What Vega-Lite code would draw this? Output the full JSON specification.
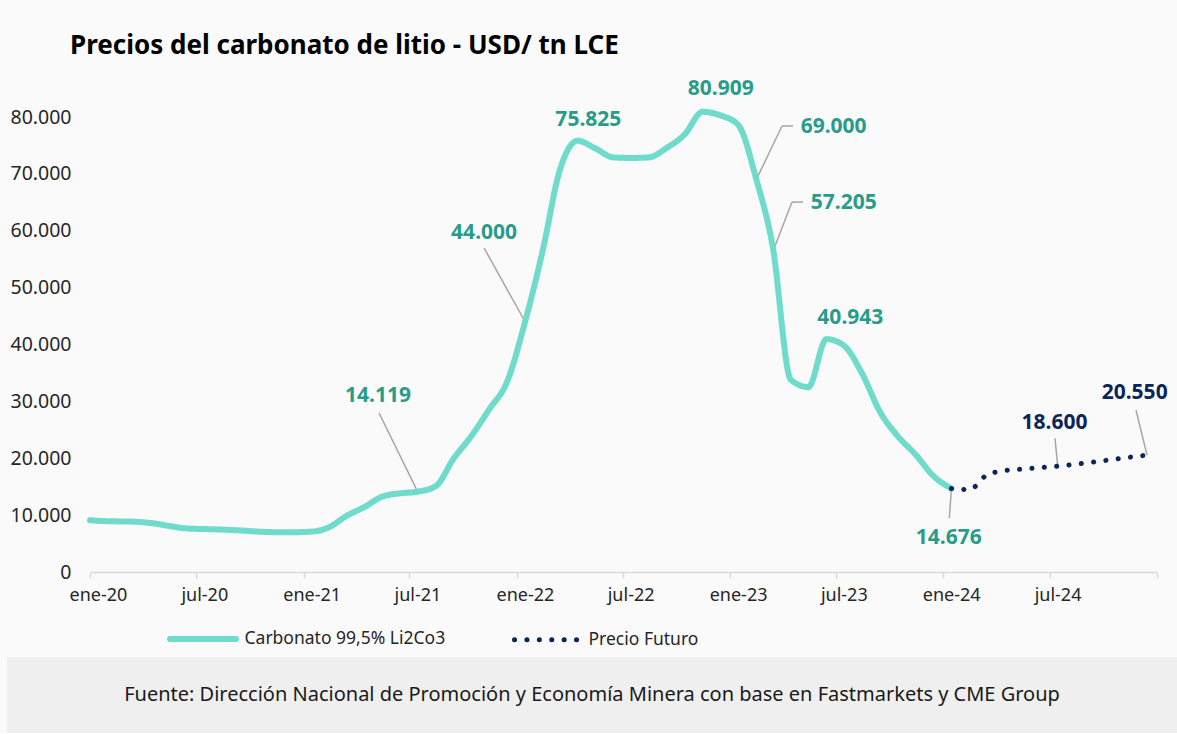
{
  "$schema": "https://vega.github.io/schema/vega-lite/v6.json",
  "background": "#fafafa",
  "padding": {"left": 7, "top": 32, "right": 0, "bottom": 0},
  "spacing": 53,
  "columns": 1,
  "align": "none",
  "config": {
    "view": {"stroke": null},
    "font": "Noto Sans",
    "locale": {
      "number": {"decimal": ",", "thousands": ".", "grouping": [3], "currency": ["$", ""]},
      "time": {
        "dateTime": "%A, %e de %B de %Y, %X", "date": "%d/%m/%Y", "time": "%H:%M:%S", "periods": ["AM", "PM"],
        "days": ["domingo", "lunes", "martes", "miércoles", "jueves", "viernes", "sábado"],
        "shortDays": ["dom", "lun", "mar", "mié", "jue", "vie", "sáb"],
        "months": ["enero", "febrero", "marzo", "abril", "mayo", "junio", "julio", "agosto", "septiembre", "octubre", "noviembre", "diciembre"],
        "shortMonths": ["ene", "feb", "mar", "abr", "may", "jun", "jul", "ago", "sep", "oct", "nov", "dic"]
      }
    }
  },
  "concat": [
    {
      "width": 1150,
      "height": 455,
      "title": {"text": "Precios del carbonato de litio - USD/ tn LCE", "anchor": "start", "frame": "group", "dx": 63, "offset": 19, "fontSize": 26, "fontWeight": "bold", "color": "#000000", "font": "Noto Sans"},
      "data": {"values": [
        {"fecha": "2020-01-01", "valor": 9100, "serie": "Carbonato 99,5% Li2Co3"},
        {"fecha": "2020-01-15", "valor": 9000, "serie": "Carbonato 99,5% Li2Co3"},
        {"fecha": "2020-02-15", "valor": 8900, "serie": "Carbonato 99,5% Li2Co3"},
        {"fecha": "2020-03-15", "valor": 8850, "serie": "Carbonato 99,5% Li2Co3"},
        {"fecha": "2020-04-15", "valor": 8600, "serie": "Carbonato 99,5% Li2Co3"},
        {"fecha": "2020-05-15", "valor": 8100, "serie": "Carbonato 99,5% Li2Co3"},
        {"fecha": "2020-06-15", "valor": 7650, "serie": "Carbonato 99,5% Li2Co3"},
        {"fecha": "2020-07-15", "valor": 7550, "serie": "Carbonato 99,5% Li2Co3"},
        {"fecha": "2020-08-15", "valor": 7450, "serie": "Carbonato 99,5% Li2Co3"},
        {"fecha": "2020-09-15", "valor": 7300, "serie": "Carbonato 99,5% Li2Co3"},
        {"fecha": "2020-10-15", "valor": 7100, "serie": "Carbonato 99,5% Li2Co3"},
        {"fecha": "2020-11-15", "valor": 7000, "serie": "Carbonato 99,5% Li2Co3"},
        {"fecha": "2020-12-15", "valor": 7000, "serie": "Carbonato 99,5% Li2Co3"},
        {"fecha": "2021-01-15", "valor": 7100, "serie": "Carbonato 99,5% Li2Co3"},
        {"fecha": "2021-02-15", "valor": 7960, "serie": "Carbonato 99,5% Li2Co3"},
        {"fecha": "2021-03-15", "valor": 9850, "serie": "Carbonato 99,5% Li2Co3"},
        {"fecha": "2021-04-15", "valor": 11430, "serie": "Carbonato 99,5% Li2Co3"},
        {"fecha": "2021-05-15", "valor": 13240, "serie": "Carbonato 99,5% Li2Co3"},
        {"fecha": "2021-06-15", "valor": 13830, "serie": "Carbonato 99,5% Li2Co3"},
        {"fecha": "2021-07-15", "valor": 14119, "serie": "Carbonato 99,5% Li2Co3"},
        {"fecha": "2021-08-15", "valor": 15100, "serie": "Carbonato 99,5% Li2Co3"},
        {"fecha": "2021-09-15", "valor": 20000, "serie": "Carbonato 99,5% Li2Co3"},
        {"fecha": "2021-10-15", "valor": 23900, "serie": "Carbonato 99,5% Li2Co3"},
        {"fecha": "2021-11-15", "valor": 28650, "serie": "Carbonato 99,5% Li2Co3"},
        {"fecha": "2021-12-15", "valor": 33400, "serie": "Carbonato 99,5% Li2Co3"},
        {"fecha": "2022-01-15", "valor": 44000, "serie": "Carbonato 99,5% Li2Co3"},
        {"fecha": "2022-02-15", "valor": 56900, "serie": "Carbonato 99,5% Li2Co3"},
        {"fecha": "2022-03-15", "valor": 70500, "serie": "Carbonato 99,5% Li2Co3"},
        {"fecha": "2022-04-15", "valor": 75825, "serie": "Carbonato 99,5% Li2Co3"},
        {"fecha": "2022-05-15", "valor": 74500, "serie": "Carbonato 99,5% Li2Co3"},
        {"fecha": "2022-06-15", "valor": 72900, "serie": "Carbonato 99,5% Li2Co3"},
        {"fecha": "2022-07-15", "valor": 72800, "serie": "Carbonato 99,5% Li2Co3"},
        {"fecha": "2022-08-15", "valor": 72900, "serie": "Carbonato 99,5% Li2Co3"},
        {"fecha": "2022-09-15", "valor": 74600, "serie": "Carbonato 99,5% Li2Co3"},
        {"fecha": "2022-10-15", "valor": 76900, "serie": "Carbonato 99,5% Li2Co3"},
        {"fecha": "2022-11-15", "valor": 80909, "serie": "Carbonato 99,5% Li2Co3"},
        {"fecha": "2022-12-15", "valor": 80300, "serie": "Carbonato 99,5% Li2Co3"},
        {"fecha": "2023-01-15", "valor": 78600, "serie": "Carbonato 99,5% Li2Co3"},
        {"fecha": "2023-02-15", "valor": 69000, "serie": "Carbonato 99,5% Li2Co3"},
        {"fecha": "2023-03-15", "valor": 57205, "serie": "Carbonato 99,5% Li2Co3"},
        {"fecha": "2023-04-15", "valor": 33800, "serie": "Carbonato 99,5% Li2Co3"},
        {"fecha": "2023-05-15", "valor": 32500, "serie": "Carbonato 99,5% Li2Co3"},
        {"fecha": "2023-06-15", "valor": 40943, "serie": "Carbonato 99,5% Li2Co3"},
        {"fecha": "2023-07-15", "valor": 39800, "serie": "Carbonato 99,5% Li2Co3"},
        {"fecha": "2023-08-15", "valor": 34900, "serie": "Carbonato 99,5% Li2Co3"},
        {"fecha": "2023-09-15", "valor": 28100, "serie": "Carbonato 99,5% Li2Co3"},
        {"fecha": "2023-10-15", "valor": 23900, "serie": "Carbonato 99,5% Li2Co3"},
        {"fecha": "2023-11-15", "valor": 20600, "serie": "Carbonato 99,5% Li2Co3"},
        {"fecha": "2023-12-15", "valor": 16900, "serie": "Carbonato 99,5% Li2Co3"},
        {"fecha": "2024-01-15", "valor": 14676, "serie": "Carbonato 99,5% Li2Co3"},
        {"fecha": "2024-01-15", "valor": 14676, "serie": "Precio Futuro"},
        {"fecha": "2024-02-15", "valor": 14500, "serie": "Precio Futuro"},
        {"fecha": "2024-03-15", "valor": 17000, "serie": "Precio Futuro"},
        {"fecha": "2024-04-15", "valor": 17830, "serie": "Precio Futuro"},
        {"fecha": "2024-05-15", "valor": 18090, "serie": "Precio Futuro"},
        {"fecha": "2024-06-15", "valor": 18340, "serie": "Precio Futuro"},
        {"fecha": "2024-07-15", "valor": 18600, "serie": "Precio Futuro"},
        {"fecha": "2024-08-15", "valor": 18950, "serie": "Precio Futuro"},
        {"fecha": "2024-09-15", "valor": 19340, "serie": "Precio Futuro"},
        {"fecha": "2024-10-15", "valor": 19760, "serie": "Precio Futuro"},
        {"fecha": "2024-11-15", "valor": 20180, "serie": "Precio Futuro"},
        {"fecha": "2024-12-15", "valor": 20550, "serie": "Precio Futuro"}
      ]},
      "encoding": {
        "x": {"field": "fecha", "type": "temporal",
          "scale": {"domain": [{"year": 2020, "month": 1, "date": 1}, {"year": 2025, "month": 1, "date": 1}], "range": [83, 1150], "nice": false},
          "axis": {
            "values": [{"year": 2020, "month": 1, "date": 1}, {"year": 2020, "month": 7, "date": 1}, {"year": 2021, "month": 1, "date": 1}, {"year": 2021, "month": 7, "date": 1}, {"year": 2022, "month": 1, "date": 1}, {"year": 2022, "month": 7, "date": 1}, {"year": 2023, "month": 1, "date": 1}, {"year": 2023, "month": 7, "date": 1}, {"year": 2024, "month": 1, "date": 1}, {"year": 2024, "month": 7, "date": 1}, {"year": 2025, "month": 1, "date": 1}],
            "format": "%b-%y",
            "labelExpr": "year(datum.value) >= 2025 ? '' : datum.label",
            "title": null, "grid": false,
            "domainColor": "#d9d9d9", "domainWidth": 1.5,
            "tickColor": "#d9d9d9", "tickWidth": 1.5, "tickSize": 6,
            "labelFontSize": 18, "labelColor": "#262626", "labelPadding": 8, "labelOffset": 8,
            "labelFlush": false, "labelOverlap": false
          }
        },
        "y": {"field": "valor", "type": "quantitative",
          "scale": {"domain": [0, 80000], "nice": false},
          "axis": {
            "values": [0, 10000, 20000, 30000, 40000, 50000, 60000, 70000, 80000],
            "format": ",.0f", "title": null, "grid": false, "domain": false, "ticks": false, "tickSize": 0,
            "offset": -83,
            "labelFontSize": 19.5, "labelColor": "#262626", "labelPadding": 19
          }
        }
      },
      "layer": [
        {"transform": [{"filter": "year(datum.fecha)==2021 && month(datum.fecha)==6"}],
         "mark": {"type": "rule", "color": "#a6a6a6", "strokeWidth": 1.5, "x2Offset": -38.6, "y2Offset": -78.7},
         "encoding": {"x2": {"field": "fecha"}, "y2": {"field": "valor"}}},
        {"transform": [{"filter": "year(datum.fecha)==2022 && month(datum.fecha)==0"}],
         "mark": {"type": "rule", "color": "#a6a6a6", "strokeWidth": 1.5, "x2Offset": -41, "y2Offset": -73.7},
         "encoding": {"x2": {"field": "fecha"}, "y2": {"field": "valor"}}},
        {"transform": [{"filter": "year(datum.fecha)==2023 && month(datum.fecha)==1"}],
         "mark": {"type": "rule", "color": "#a6a6a6", "strokeWidth": 1.5, "x2Offset": 25.6, "y2Offset": -53.6},
         "encoding": {"x2": {"field": "fecha"}, "y2": {"field": "valor"}}},
        {"transform": [{"filter": "year(datum.fecha)==2023 && month(datum.fecha)==1"}],
         "mark": {"type": "rule", "color": "#a6a6a6", "strokeWidth": 1.5, "xOffset": 25.6, "yOffset": -53.6, "x2Offset": 36.6, "y2Offset": -53.6},
         "encoding": {"x2": {"field": "fecha"}, "y2": {"field": "valor"}}},
        {"transform": [{"filter": "year(datum.fecha)==2023 && month(datum.fecha)==2"}],
         "mark": {"type": "rule", "color": "#a6a6a6", "strokeWidth": 1.5, "xOffset": 2, "x2Offset": 19.3, "y2Offset": -44.6},
         "encoding": {"x2": {"field": "fecha"}, "y2": {"field": "valor"}}},
        {"transform": [{"filter": "year(datum.fecha)==2023 && month(datum.fecha)==2"}],
         "mark": {"type": "rule", "color": "#a6a6a6", "strokeWidth": 1.5, "xOffset": 19.3, "yOffset": -44.6, "x2Offset": 30.3, "y2Offset": -44.6},
         "encoding": {"x2": {"field": "fecha"}, "y2": {"field": "valor"}}},
        {"transform": [{"filter": "year(datum.fecha)==2024 && month(datum.fecha)==0 && datum.serie=='Carbonato 99,5% Li2Co3'"}],
         "mark": {"type": "rule", "color": "#a6a6a6", "strokeWidth": 1.5, "x2Offset": -2.1, "y2Offset": 29.5},
         "encoding": {"x2": {"field": "fecha"}, "y2": {"field": "valor"}}},
        {"transform": [{"filter": "year(datum.fecha)==2024 && month(datum.fecha)==6"}],
         "mark": {"type": "rule", "color": "#a6a6a6", "strokeWidth": 1.5, "x2Offset": -2.7, "y2Offset": -27.9},
         "encoding": {"x2": {"field": "fecha"}, "y2": {"field": "valor"}}},
        {"transform": [{"filter": "year(datum.fecha)==2024 && month(datum.fecha)==11"}],
         "mark": {"type": "rule", "color": "#a6a6a6", "strokeWidth": 1.5, "x2Offset": -11.1, "y2Offset": -45.1},
         "encoding": {"x2": {"field": "fecha"}, "y2": {"field": "valor"}}},
        {
          "mark": {"type": "line", "interpolate": "monotone", "strokeCap": "round", "strokeJoin": "round"},
          "encoding": {
            "color": {"field": "serie", "type": "nominal",
              "scale": {"domain": ["Carbonato 99,5% Li2Co3", "Precio Futuro"], "range": ["#6fdbcb", "#0b2559"]},
              "legend": {"title": null, "orient": "none", "legendX": 160, "legendY": 486, "direction": "horizontal",
                "symbolType": "stroke", "symbolSize": 4356, "labelFontSize": 17.5, "labelColor": "#262626", "labelFont": "Noto Sans",
                "labelLimit": 400, "columnPadding": 58, "labelOffset": 5.5,
                "encode": {"symbols": {"update": {"strokeCap": {"value": "round"}}}}}},
            "strokeDash": {"field": "serie", "type": "nominal",
              "scale": {"domain": ["Carbonato 99,5% Li2Co3", "Precio Futuro"], "range": [[1, 0], [0.1, 12.3]]}},
            "strokeWidth": {"field": "serie", "type": "nominal",
              "scale": {"domain": ["Carbonato 99,5% Li2Co3", "Precio Futuro"], "range": [6, 5]}}
          }
        },
        {"transform": [{"filter": "year(datum.fecha)==2021 && month(datum.fecha)==6"}],
         "mark": {"type": "text", "dx": -39.6, "dy": -95.7, "fontSize": 21, "fontWeight": "bold", "color": "#289c8b"},
         "encoding": {"text": {"field": "valor", "type": "quantitative", "format": ",.0f"}}},
        {"transform": [{"filter": "year(datum.fecha)==2022 && month(datum.fecha)==0"}],
         "mark": {"type": "text", "dx": -41, "dy": -88.7, "fontSize": 21, "fontWeight": "bold", "color": "#289c8b"},
         "encoding": {"text": {"field": "valor", "type": "quantitative", "format": ",.0f"}}},
        {"transform": [{"filter": "year(datum.fecha)==2022 && month(datum.fecha)==3"}],
         "mark": {"type": "text", "dx": 10.7, "dy": -20.7, "fontSize": 21, "fontWeight": "bold", "color": "#289c8b"},
         "encoding": {"text": {"field": "valor", "type": "quantitative", "format": ",.0f"}}},
        {"transform": [{"filter": "year(datum.fecha)==2022 && month(datum.fecha)==10"}],
         "mark": {"type": "text", "dx": 18.2, "dy": -23.1, "fontSize": 21, "fontWeight": "bold", "color": "#289c8b"},
         "encoding": {"text": {"field": "valor", "type": "quantitative", "format": ",.0f"}}},
        {"transform": [{"filter": "year(datum.fecha)==2023 && month(datum.fecha)==1"}],
         "mark": {"type": "text", "align": "left", "dx": 44.3, "dy": -52.9, "fontSize": 21, "fontWeight": "bold", "color": "#289c8b"},
         "encoding": {"text": {"field": "valor", "type": "quantitative", "format": ",.0f"}}},
        {"transform": [{"filter": "year(datum.fecha)==2023 && month(datum.fecha)==2"}],
         "mark": {"type": "text", "align": "left", "dx": 38, "dy": -43.3, "fontSize": 21, "fontWeight": "bold", "color": "#289c8b"},
         "encoding": {"text": {"field": "valor", "type": "quantitative", "format": ",.0f"}}},
        {"transform": [{"filter": "year(datum.fecha)==2023 && month(datum.fecha)==5"}],
         "mark": {"type": "text", "dx": 23.9, "dy": -20.8, "fontSize": 21, "fontWeight": "bold", "color": "#289c8b"},
         "encoding": {"text": {"field": "valor", "type": "quantitative", "format": ",.0f"}}},
        {"transform": [{"filter": "year(datum.fecha)==2024 && month(datum.fecha)==0 && datum.serie=='Carbonato 99,5% Li2Co3'"}],
         "mark": {"type": "text", "dx": -2.7, "dy": 49.8, "fontSize": 21, "fontWeight": "bold", "color": "#289c8b"},
         "encoding": {"text": {"field": "valor", "type": "quantitative", "format": ",.0f"}}},
        {"transform": [{"filter": "year(datum.fecha)==2024 && month(datum.fecha)==6"}],
         "mark": {"type": "text", "dx": -3.2, "dy": -43.7, "fontSize": 21, "fontWeight": "bold", "color": "#0b2559"},
         "encoding": {"text": {"field": "valor", "type": "quantitative", "format": ",.0f"}}},
        {"transform": [{"filter": "year(datum.fecha)==2024 && month(datum.fecha)==11"}],
         "mark": {"type": "text", "dx": -12.4, "dy": -61.8, "fontSize": 21, "fontWeight": "bold", "color": "#0b2559"},
         "encoding": {"text": {"field": "valor", "type": "quantitative", "format": ",.0f"}}}
      ]
    },
    {
      "width": 1170,
      "height": 76,
      "view": {"fill": "#efefef", "stroke": null},
      "data": {"values": [{"fuente": "Fuente: Dirección Nacional de Promoción y Economía Minera con base en Fastmarkets y CME Group"}]},
      "mark": {"type": "text", "fontSize": 20, "color": "#1a1a1a", "font": "Noto Sans"},
      "encoding": {"text": {"field": "fuente", "type": "nominal"}}
    }
  ]
}
